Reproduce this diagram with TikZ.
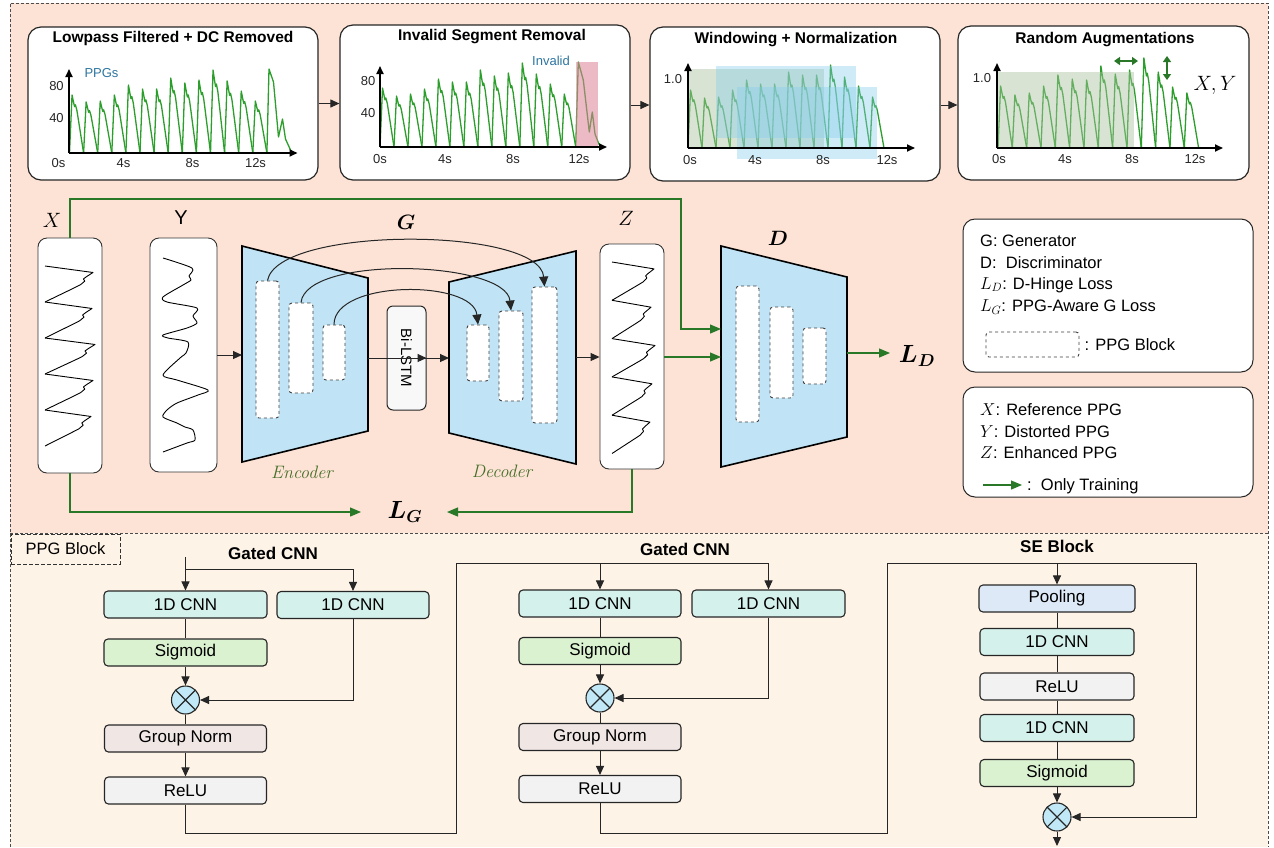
\documentclass[tikz,border=0pt]{standalone}
\usepackage{amsmath}
\usepackage{fontspec}
\setsansfont{Liberation Sans}
\renewcommand{\familydefault}{\sfdefault}
\usetikzlibrary{arrows.meta,positioning}

\definecolor{toppeach}{RGB}{252,227,213}
\definecolor{botcream}{RGB}{254,243,231}
\definecolor{wavegreen}{RGB}{44,158,44}
\definecolor{traingreen}{RGB}{40,120,40}
\definecolor{trapblue}{RGB}{192,228,245}
\definecolor{cnnteal}{RGB}{213,241,236}
\definecolor{sigmint}{RGB}{218,242,208}
\definecolor{normrose}{RGB}{240,231,229}
\definecolor{relugrey}{RGB}{242,242,242}
\definecolor{poolblue}{RGB}{221,233,247}
\definecolor{multcyan}{RGB}{193,232,246}
\definecolor{labelblue}{RGB}{46,117,160}
\definecolor{codergreen}{RGB}{70,110,40}
\definecolor{invalidpink}{RGB}{220,130,150}
\definecolor{winblue}{RGB}{135,206,235}
\definecolor{wingreen}{RGB}{170,195,160}
\definecolor{lstmgrey}{RGB}{248,248,248}

\newcommand{\fsz}[1]{\fontsize{#1}{#1}\selectfont}
\newcommand{\ppgtrace}[4][wave]{%
  \foreach \h [count=\bt from 0] in {#4}{%
    \draw[#1] ({\bt*#2},0) -- ++({0.18*#2},{\h*#3}) -- ++({0.12*#2},{-0.14*\h*#3})
      -- ++({0.06*#2},{-0.06*\h*#3}) -- ++({0.06*#2},{0.03*\h*#3})
      -- ++({0.10*#2},{-0.09*\h*#3}) -- ++({0.08*#2},{-0.12*\h*#3}) -- ({(\bt+1)*#2},0);
  }}

\begin{document}
\begin{tikzpicture}[x=1pt, y=-1pt,
    every node/.style={inner sep=0pt},
    plotbox/.style={draw=black!85, line width=1.2pt, fill=white, rounded corners=13pt},
    boxtitle/.style={font=\bfseries\fsz{15.5}},
    ticklbl/.style={font=\fsz{13}, text=black!85},
    plotaxis/.style={line width=1.7pt, -{Triangle[length=8pt,width=7pt]}},
    wave/.style={draw=wavegreen, line width=1.3pt, line join=round},
    sigline/.style={draw=black, line width=0.9pt, line join=round},
    flow/.style={line width=1pt, draw=black!85, -{Triangle[length=9pt,width=8pt]}},
    link/.style={line width=1pt, draw=black!85},
    train/.style={line width=1.2pt, draw=traingreen, -{Triangle[length=11pt,width=9pt]}},
    sigbox/.style={draw=black!80, line width=0.9pt, fill=white, rounded corners=9pt},
    ppgblk/.style={draw=black!75, dashed, line width=0.9pt, fill=white, rounded corners=3pt},
    trap/.style={draw=black, line width=1.6pt, fill=trapblue},
    symlbl/.style={font=\fsz{22}},
    lyr/.style={draw=black!85, line width=1.1pt, rounded corners=4pt, minimum height=27pt, font=\fsz{17}},
    cnn/.style={lyr, fill=cnnteal},
    sigm/.style={lyr, fill=sigmint},
    gnorm/.style={lyr, fill=normrose},
    relu/.style={lyr, fill=relugrey},
    poolbox/.style={lyr, fill=poolblue},
    mult/.style={circle, draw=black!85, line width=1.1pt, fill=multcyan, minimum size=28pt,
      path picture={\draw[line width=1.1pt] (path picture bounding box.north west) -- (path picture bounding box.south east)
        (path picture bounding box.north east) -- (path picture bounding box.south west);}},
    legbox/.style={draw=black!85, line width=1pt, fill=white, rounded corners=12pt},
    legtxt/.style={anchor=west, font=\fsz{16.5}},
    blocktitle/.style={font=\bfseries\fsz{17}},
  ]
  \useasboundingbox (0,0) rectangle (1274,847);
  \fill[toppeach] (10,3) rectangle (1268,533);
  \fill[botcream] (10,533) rectangle (1268,847);
  \draw[black!70, line width=0.8pt, dash pattern=on 3pt off 2pt] (10,847) -- (10,3) -- (1268,3) -- (1268,847) (10,533) -- (1268,533);

  % preprocessing
  \node[plotbox, minimum width=290, minimum height=153] (prep1) at (173,103.5) {};
  \node[plotbox, minimum width=290, minimum height=155] (prep2) at (485,102.5) {};
  \node[plotbox, minimum width=290, minimum height=154] (prep3) at (795,104) {};
  \node[plotbox, minimum width=291, minimum height=154] (prep4) at (1103.5,103) {};
  \node[boxtitle] (ttl1) at (173,38) {Lowpass Filtered + DC Removed};
  \node[boxtitle] (ttl2) at (492,37) {Invalid Segment Removal};
  \node[boxtitle] (ttl3) at (796,40) {Windowing + Normalization};
  \node[boxtitle] (ttl4) at (1105,40) {Random Augmentations};
  \draw[flow] (prep1.east) -- (prep1.east -| prep2.west);
  \draw[flow] (prep2.east |- 0,105) -- (prep3.west |- 0,105);
  \draw[flow] (prep3.east |- 0,105) -- (prep4.west |- 0,105);

  \begin{scope}[shift={(69.5,153)}, yscale=-1]
    \ppgtrace{14.1}{1}{58,51,52,58,68,64,64,75,70,73,83,72,62,52}
    \draw[wave] (197.4,0) -- (199.5,84) -- (204,71) -- (209,16) -- (213,34) -- (216,14) -- (221,3) -- (223,0);
    \draw[plotaxis] (-0.5,0) -- (228,0);
    \draw[plotaxis] (-0.5,0) -- (-0.5,84);
    \node[ticklbl] (p1a) at (-13,67) {80};
    \node[ticklbl] (p1b) at (-13,35) {40};
    \node[ticklbl] (p1c) at (-11,-10) {0s};
    \node[ticklbl] (p1d) at (54,-10) {4s};
    \node[ticklbl] (p1e) at (123,-10) {8s};
    \node[ticklbl] (p1f) at (186,-10) {12s};
    \node[ticklbl, text=labelblue] (p1g) at (32,80) {PPGs};
  \end{scope}

  \begin{scope}[shift={(380,147)}, yscale=-1]
    \ppgtrace{13.98}{1}{59,51,53,58,68,65,65,77,71,74,84,73,63,53}
    \draw[wave] (195.7,0) -- (198.3,85) -- (203.3,67) -- (209.3,15) -- (212.3,35) -- (215,13) -- (219.3,2);
    \fill[invalidpink, fill opacity=0.55] (196,0) rectangle (218,85);
    \draw[plotaxis] (0,0) -- (227,0);
    \draw[plotaxis] (0,0) -- (0,81);
    \node[ticklbl] (p2a) at (-12,66) {80};
    \node[ticklbl] (p2b) at (-12,34) {40};
    \node[ticklbl] (p2c) at (0,-12) {0s};
    \node[ticklbl] (p2d) at (65,-12) {4s};
    \node[ticklbl] (p2e) at (133,-12) {8s};
    \node[ticklbl] (p2f) at (199,-12) {12s};
    \node[ticklbl, text=labelblue] (p2g) at (171,86) {Invalid};
  \end{scope}

  \begin{scope}[shift={(688,148)}, yscale=-1]
    \ppgtrace{14}{1}{58,50,51,58,68,64,64,76,73,73,83,71,62,51}
    \fill[wingreen, fill opacity=0.45] (-1,0) rectangle (136,79);
    \fill[winblue, fill opacity=0.4] (28,10) rectangle (168,82);
    \fill[winblue, fill opacity=0.4] (49,-11) rectangle (189,61);
    \draw[plotaxis] (0,0) -- (227,0);
    \draw[plotaxis] (0,0) -- (0,85);
    \node[ticklbl] (p3a) at (-15,69) {1.0};
    \node[ticklbl] (p3c) at (2,-12) {0s};
    \node[ticklbl] (p3d) at (67,-12) {4s};
    \node[ticklbl] (p3e) at (135,-12) {8s};
    \node[ticklbl] (p3f) at (199,-12) {12s};
  \end{scope}

  \begin{scope}[shift={(998,148)}, yscale=-1]
    \ppgtrace{14.33}{1}{62,53,55,62,73,69,68,82,74,78,90,76,61,55}
    \fill[wingreen, fill opacity=0.45] (-1,0) rectangle (136,76);
    \draw[plotaxis] (-1,0) -- (225,0);
    \draw[plotaxis] (-1,0) -- (-1,85);
    \draw[line width=2pt, draw=traingreen, {Triangle[length=6pt,width=8pt]}-{Triangle[length=6pt,width=8pt]}] (116,87) -- (140,87);
    \draw[line width=2pt, draw=traingreen, {Triangle[length=6pt,width=8pt]}-{Triangle[length=6pt,width=8pt]}] (169,68) -- (169,92);
    \node[ticklbl] (p4a) at (-16,70) {1.0};
    \node[ticklbl] (p4c) at (1,-11) {0s};
    \node[ticklbl] (p4d) at (67,-11) {4s};
    \node[ticklbl] (p4e) at (134,-11) {8s};
    \node[ticklbl] (p4f) at (197,-11) {12s};
    \node[font=\fsz{22}] (p4g) at (217,63) {$X,Y$};
  \end{scope}

  % generator and discriminator
  \node[sigbox, minimum width=64, minimum height=235] (xsig) at (70,355.5) {};
  \node[sigbox, minimum width=67, minimum height=234] (ysig) at (183.5,355) {};
  \node[sigbox, minimum width=64, minimum height=225] (zsig) at (632,356.5) {};
  \begin{scope}[shift={(45,266)}, x={(0pt,-1pt)}, y={(1pt,0pt)}]
    \ppgtrace[sigline]{36}{1}{48,47,50,48,46}
  \end{scope}
  \begin{scope}[shift={(612,262)}, x={(0pt,-1pt)}, y={(1pt,0pt)}]
    \ppgtrace[sigline]{38.3}{1}{42,39,43,40,38}
  \end{scope}
  \draw[sigline] plot[smooth, tension=0.45] coordinates {(163,258) (192,268) (189,276) (191,280) (183,285) (163,297) (167,302) (197,308)
    (193,316) (197,323) (187,328) (163,335) (168,338) (188,342) (186,353) (180,358) (163,375) (177,380) (208,390) (198,395)
    (177,403) (167,410) (163,417) (177,423) (185,427) (193,430) (195,440) (187,443) (163,452)};

  \draw[trap] (242,246) -- (368,278) -- (368,431) -- (242,462) -- cycle;
  \draw[trap] (449,282) -- (576,251) -- (576,464) -- (449,433) -- cycle;
  \draw[trap] (721,246) -- (847,277) -- (847,437) -- (721,467) -- cycle;
  \coordinate (enc-w) at (242,355);
  \coordinate (enc-e) at (368,358);
  \coordinate (dec-w) at (449,358);
  \coordinate (dec-e) at (576,357);
  \coordinate (dis-w1) at (721,329);
  \coordinate (dis-w2) at (721,357);
  \coordinate (dis-e) at (847,353);
  \coordinate (ld-tip) at (890,353);
  \coordinate (lg-left) at (361,512);
  \coordinate (lg-right) at (447,512);

  \node[ppgblk, minimum width=23, minimum height=137] (e1) at (267.5,349.5) {};
  \node[ppgblk, minimum width=24, minimum height=90] (e2) at (301,348) {};
  \node[ppgblk, minimum width=22, minimum height=55] (e3) at (334,352.5) {};
  \node[ppgblk, minimum width=22, minimum height=56] (d1) at (478,353) {};
  \node[ppgblk, minimum width=24, minimum height=90] (d2) at (511,356) {};
  \node[ppgblk, minimum width=25, minimum height=136] (d3) at (544.5,355) {};
  \node[ppgblk, minimum width=23, minimum height=136] (b1) at (747.5,354) {};
  \node[ppgblk, minimum width=23, minimum height=91] (b2) at (781.5,352.5) {};
  \node[ppgblk, minimum width=23, minimum height=56] (b3) at (814.5,356) {};
  \node[draw=black!85, line width=1pt, fill=lstmgrey, rounded corners=6pt, rotate=-90,
        minimum width=104, minimum height=39, font=\fsz{15}] (bilstm) at (406.5,358) {Bi-LSTM};

  \draw[link, -{Triangle[length=10pt,width=9pt]}] (e1.north) .. controls +(10,-55) and +(-5,-60) .. (d3.north);
  \draw[link, -{Triangle[length=10pt,width=9pt]}] (e2.north) .. controls +(5,-48) and +(-5,-50) .. (d2.north);
  \draw[link, -{Triangle[length=10pt,width=9pt]}] (e3.north) .. controls +(0,-45) and +(-5,-45) .. (d1.north);

  \node[symlbl] (xlbl) at (52,220) {$X$};
  \node[symlbl, font=\fsz{20}] (ylbl) at (181,218) {Y};
  \node[symlbl] (zlbl) at (626,218) {$Z$};
  \node[symlbl] (glbl) at (406,222) {$\boldsymbol{G}$};
  \node[symlbl] (dlbl) at (778,238) {$\boldsymbol{D}$};
  \node[font=\rmfamily\itshape\fsz{18}, text=codergreen] (enclbl) at (302,472) {Encoder};
  \node[font=\rmfamily\itshape\fsz{18}, text=codergreen] (declbl) at (502,471) {Decoder};
  \node[font=\fsz{25}] (lg) at (405,512) {$\boldsymbol{L_G}$};
  \node[font=\fsz{25}] (ld) at (917,356) {$\boldsymbol{L_D}$};

  \draw[flow] (ysig.east |- enc-w) -- (enc-w);
  \draw[flow] (enc-e) -- (bilstm.north |- enc-e);
  \draw[flow] (bilstm.south |- dec-w) -- (dec-w);
  \draw[flow] (dec-e) -- (zsig.west |- dec-e);
  \draw[train] (xsig.north) |- (681,199) |- (dis-w1);
  \draw[train] (zsig.east |- dis-w2) -- (dis-w2);
  \draw[train] (dis-e) -- (ld-tip);
  \draw[train] (xsig.south) |- (lg-left);
  \draw[train] (zsig.south) |- (lg-right);

  % legend
  \node[legbox, minimum width=290, minimum height=153] (leg1) at (1108,295.5) {};
  \node[legtxt] (lgen) at (980,241) {G: Generator};
  \node[legtxt] (ldis) at (980,263) {D:\ \ Discriminator};
  \node[legtxt] (lhinge) at (980,285) {$L_D$: D-Hinge Loss};
  \node[legtxt] (laware) at (980,307) {$L_G$: PPG-Aware G Loss};
  \node[ppgblk, minimum width=93, minimum height=25] (legblk) at (1032.5,344.5) {};
  \node[legtxt, right=5pt of legblk] (lblk) {: PPG Block};
  \node[legbox, minimum width=290, minimum height=110] (leg2) at (1108,442) {};
  \node[legtxt] (lref) at (980,410) {$X$: Reference PPG};
  \node[legtxt] (ldist) at (980,432) {$Y$: Distorted PPG};
  \node[legtxt] (lenh) at (980,453) {$Z$: Enhanced PPG};
  \coordinate (legtrain) at (983,485);
  \draw[train] (legtrain) -- ++(39,0);
  \node[legtxt] (ltrain) at (1027,486) {:\ \ Only Training};

  % PPG block
  \node[draw=black!80, line width=1pt, dash pattern=on 4pt off 2pt, minimum width=109, minimum height=30, font=\fsz{16.5}] (tag) at (65.5,549) {PPG Block};
  \node[blocktitle] (gated1) at (273,553) {Gated CNN};
  \node[blocktitle] (gated2) at (685,549) {Gated CNN};
  \node[blocktitle] (seblk) at (1057,546) {SE Block};

  \node[cnn, minimum width=163] (cnn1a) at (185.5,604.5) {1D CNN};
  \node[cnn, minimum width=152] (cnn1b) at (353,605) {1D CNN};
  \node[sigm, minimum width=163] (sig1) at (185.5,652.5) {Sigmoid};
  \node[mult] (mult1) at (185.5,700) {};
  \node[gnorm, minimum width=162] (norm1) at (185.5,738.5) {Group Norm};
  \node[relu, minimum width=162] (relu1) at (185.5,790.5) {ReLU};

  \node[cnn, minimum width=162] (cnn2a) at (600,603.5) {1D CNN};
  \node[cnn, minimum width=153] (cnn2b) at (768.5,603.5) {1D CNN};
  \node[sigm, minimum width=162] (sig2) at (600,651) {Sigmoid};
  \node[mult] (mult2) at (600,698) {};
  \node[gnorm, minimum width=162] (norm2) at (600,737) {Group Norm};
  \node[relu, minimum width=162] (relu2) at (600,789) {ReLU};

  \node[poolbox, minimum width=156] (pool) at (1057,598.5) {Pooling};
  \node[cnn, minimum width=154] (cnn3a) at (1057,642) {1D CNN};
  \node[relu, minimum width=154] (relu3) at (1057,686.5) {ReLU};
  \node[cnn, minimum width=154] (cnn3b) at (1057,728) {1D CNN};
  \node[sigm, minimum width=154] (sig3) at (1057,773) {Sigmoid};
  \node[mult] (mult3) at (1057,817) {};
  \coordinate (g1in) at (185.5,557);
  \coordinate (seout) at (1057,846);

  \draw[flow] (g1in) -- (cnn1a.north);
  \draw[flow] (cnn1a.north |- 0,569) -| (cnn1b.north);
  \draw[link] (cnn1a) -- (sig1);
  \draw[flow] (sig1) -- (mult1);
  \draw[flow] (cnn1b.south) |- (mult1.east);
  \draw[link] (mult1) -- (norm1);
  \draw[flow] (norm1) -- (relu1);

  \draw[flow] (relu1.south) |- (456,833) |- (cnn2b.north |- 0,563) -- (cnn2b.north);
  \draw[flow] (cnn2a.north |- 0,563) -- (cnn2a.north);
  \draw[link] (cnn2a) -- (sig2);
  \draw[flow] (sig2) -- (mult2);
  \draw[flow] (cnn2b.south) |- (mult2.east);
  \draw[link] (mult2) -- (norm2);
  \draw[flow] (norm2) -- (relu2);

  \draw[flow] (relu2.south) |- (887,833) |- (1196,563) |- (mult3.east);
  \draw[flow] (pool.north |- 0,563) -- (pool.north);
  \draw[link] (pool) -- (cnn3a);
  \draw[link] (cnn3a) -- (relu3);
  \draw[link] (relu3) -- (cnn3b);
  \draw[link] (cnn3b) -- (sig3);
  \draw[flow] (sig3) -- (mult3);
  \draw[flow] (mult3.south) -- (seout);
\end{tikzpicture}
\end{document}
